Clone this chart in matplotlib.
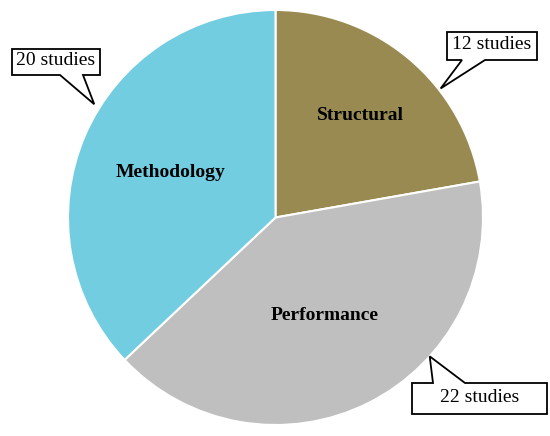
import numpy as np
import matplotlib
matplotlib.use("Agg")
import matplotlib.pyplot as plt
from matplotlib.patches import Polygon

# --- data ---
categories = ["Structural", "Performance", "Methodology"]
counts = [12, 22, 20]
callout_texts = ["12 studies", "22 studies", "20 studies"]
colors = ["#998A52", "#BFBFBF", "#72CDE0"]

W, H = 550, 436
CX, CY, R = 275.5, 217.5, 207.5   # pie centre / radius in pixels


def px(x, y):
    # pixel (from top-left) -> data coords
    return (x - CX) / R, (CY - y) / R


fig = plt.figure(figsize=(W / 100, H / 100), dpi=100)
ax = fig.add_axes([0, 0, 1, 1])

wedges, _ = ax.pie(
    counts,
    colors=colors,
    startangle=90,
    counterclock=False,
    radius=1,
    wedgeprops=dict(edgecolor="white", linewidth=1.5),
)
ax.set_aspect("auto")
ax.set_xlim(-CX / R, (W - CX) / R)
ax.set_ylim(-(H - CY) / R, CY / R)
ax.axis("off")

# --- labels inside the wedges ---
label_r = [0.64, 0.53, 0.55]
for w, name, r in zip(wedges, categories, label_r):
    a = np.deg2rad((w.theta1 + w.theta2) / 2)
    ax.text(r * np.cos(a), r * np.sin(a), name, ha="center", va="center",
            fontsize=14, fontweight="bold", family="Liberation Serif")

# --- callout boxes (box in pixels, pointer tip on the pie edge) ---
# left, top, right, bottom, pointer edge, base x1, base x2, tip angle, tip radius
callouts = [
    (447, 32, 537, 60, "bottom", 462, 485, 38, 1.01),
    (412, 383, 547, 414, "top", 433, 465, -42, 1.0),
    (12, 49, 100, 75, "bottom", 60, 83, 148, 1.03),
]
for (l, t, r, b, edge, b1, b2, ang, tr), txt in zip(callouts, callout_texts):
    a = np.deg2rad(ang)
    tip = (tr * np.cos(a), tr * np.sin(a))
    if edge == "bottom":
        pts = [px(l, t), px(r, t), px(r, b), px(b2, b), tip, px(b1, b), px(l, b)]
    else:
        pts = [px(l, t), px(b1, t), tip, px(b2, t), px(r, t), px(r, b), px(l, b)]
    ax.add_patch(Polygon(pts, closed=True, facecolor="white", edgecolor="black",
                         linewidth=1.3, zorder=5))
    cx, cy = px((l + r) / 2, (t + b) / 2)
    ax.text(cx, cy + 0.005, txt, ha="center", va="center", fontsize=14,
            family="Liberation Serif", zorder=6)

fig.savefig("out.png", dpi=100)
